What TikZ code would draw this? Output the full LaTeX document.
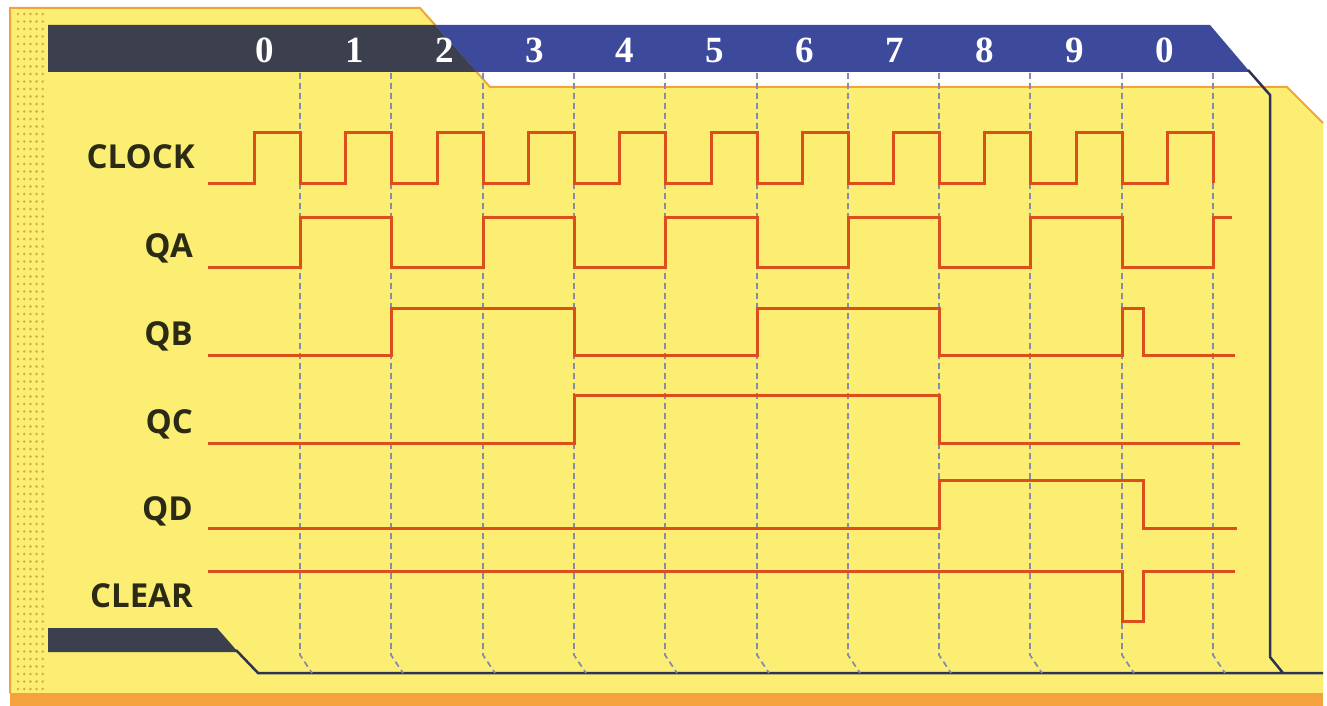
\documentclass[tikz,border=0pt]{standalone}
\usepackage{fontspec}
\setmainfont{Liberation Serif}
\newfontfamily\lblfont{Open Sans}
\usepackage{xcolor}
\usepackage{tikz}
\definecolor{card}{HTML}{FBEE72}
\definecolor{cardedge}{HTML}{EFA53A}
\definecolor{strip}{HTML}{F3A23E}
\definecolor{dots}{HTML}{CFAE45}
\definecolor{slate}{HTML}{3B3F4E}
\definecolor{navy}{HTML}{3D4A9C}
\definecolor{frame}{HTML}{2E3352}
\definecolor{wave}{HTML}{DC4E1A}
\definecolor{gridc}{HTML}{858BAE}
\definecolor{ink}{HTML}{2B2A14}

\begin{document}
\begin{tikzpicture}[x=1pt,y=-1pt,
  lbl/.style={anchor=base east,inner sep=0pt,text=ink,font=\lblfont\bfseries\fontsize{33}{40}\selectfont},
  num/.style={anchor=base,inner sep=0pt,text=white,font=\bfseries\fontsize{37}{40}\selectfont},
  w/.style={draw=wave,line width=3pt},
  g/.style={draw=gridc,line width=1.7pt,dash pattern=on 6pt off 4pt},
  fr/.style={draw=frame,line width=2.5pt}]
\useasboundingbox (0,0) rectangle (1327,706);
% card and dotted strip
\fill[card] (10,8) -- (420,8) -- (490,87) -- (1287,87) -- (1323,123) -- (1323,693) -- (10,693) -- cycle;
\draw[cardedge,line width=2pt] (10,693) -- (10,8) -- (420,8) -- (490,87) -- (1287,87) -- (1323,123);
\fill[strip] (10,693) rectangle (1323,706);
\foreach \i in {0,...,4} \foreach \j in {0,...,90} \fill[dots] (18+6.2*\i,14+7.5*\j) circle (1.4);
% header and frame
\fill[slate] (48,25) -- (435,25) -- (477,72) -- (48,72) -- cycle;
\fill[navy] (435,25) -- (1210,25) -- (1250,72) -- (477,72) -- cycle;
\fill[slate] (48,628) -- (217,628) -- (238,652) -- (48,652) -- cycle;
\draw[fr] (1248,70) -- (1270,95) -- (1270,657) -- (1283,673) -- (1323,673)
  (1283,673) -- (258,673) -- (236,650);
% time lines
\foreach \x in {300,391,483,574,665,757,848,939,1030,1122,1213}
  \draw[g] (\x,73) -- (\x,655) -- (\x+12,673);
\node[num] (n0) at (265,63) {0};
\node[num] (n1) at (355,63) {1};
\node[num] (n2) at (445,63) {2};
\node[num] (n3) at (535,63) {3};
\node[num] (n4) at (625,63) {4};
\node[num] (n5) at (715,63) {5};
\node[num] (n6) at (805,63) {6};
\node[num] (n7) at (895,63) {7};
\node[num] (n8) at (985,63) {8};
\node[num] (n9) at (1075,63) {9};
\node[num] (n10) at (1165,63) {0};
% signals
\node[lbl] (clock) at (195,168) {CLOCK};
\node[lbl] (qa) at (193,257) {QA};
\node[lbl] (qb) at (193,345) {QB};
\node[lbl] (qc) at (193,433) {QC};
\node[lbl] (qd) at (193,520) {QD};
\node[lbl] (clear) at (193,607) {CLEAR};
\draw[w] (208,183) -| (254,133) -| (300,183) -| (345,133) -| (391,183) -| (437,133) -| (483,183) -| (528,133) -| (574,183) -| (619,133) -| (665,183) -| (711,133) -| (757,183) -| (802,133) -| (848,183) -| (893,133) -| (939,183) -| (984,133) -| (1030,183) -| (1076,133) -| (1122,183) -| (1167,133) -| (1213,183);
\draw[w] (208,267) -| (300,217) -| (391,267) -| (483,217) -| (574,267) -| (665,217) -| (757,267) -| (848,217) -| (939,267) -| (1030,217) -| (1122,267) -| (1213,217) -- (1232,217);
\draw[w] (208,355) -| (391,308) -| (574,355) -| (757,308) -| (939,355) -| (1122,308) -| (1143,355) -- (1235,355);
\draw[w] (208,443) -| (574,395) -| (939,443) -- (1240,443);
\draw[w] (208,528) -| (939,480) -| (1143,528) -- (1237,528);
\draw[w] (208,571) -| (1122,621) -| (1143,571) -- (1235,571);
\end{tikzpicture}
\end{document}
